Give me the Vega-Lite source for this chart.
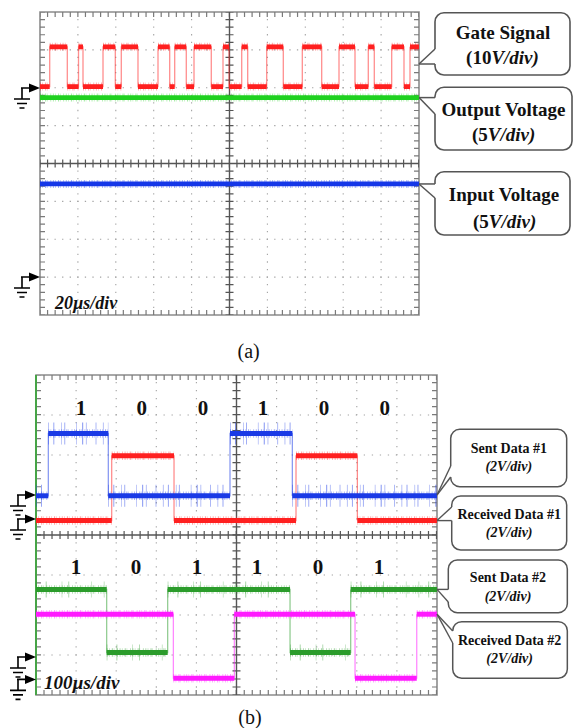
{
  "$schema": "https://vega.github.io/schema/vega-lite/v6.json",
  "padding": 0,
  "spacing": 0,
  "bounds": "flush",
  "background": "white",
  "config": {"view": {"stroke": null}, "text": {"font": "Liberation Serif", "color": "#111111"}},
  "datasets": {
    "gridA": [
      {"t": 20, "t2": 20, "v": 0, "v2": 8}, {"t": 40, "t2": 40, "v": 0, "v2": 8}, {"t": 60, "t2": 60, "v": 0, "v2": 8}, {"t": 80, "t2": 80, "v": 0, "v2": 8},
      {"t": 120, "t2": 120, "v": 0, "v2": 8}, {"t": 140, "t2": 140, "v": 0, "v2": 8}, {"t": 160, "t2": 160, "v": 0, "v2": 8}, {"t": 180, "t2": 180, "v": 0, "v2": 8},
      {"t": 0, "t2": 200, "v": 1, "v2": 1}, {"t": 0, "t2": 200, "v": 2, "v2": 2}, {"t": 0, "t2": 200, "v": 3, "v2": 3},
      {"t": 0, "t2": 200, "v": 5, "v2": 5}, {"t": 0, "t2": 200, "v": 6, "v2": 6}, {"t": 0, "t2": 200, "v": 7, "v2": 7}
    ],
    "gridB": [
      {"t": 100, "t2": 100, "v": 0, "v2": 8}, {"t": 200, "t2": 200, "v": 0, "v2": 8}, {"t": 300, "t2": 300, "v": 0, "v2": 8}, {"t": 400, "t2": 400, "v": 0, "v2": 8},
      {"t": 600, "t2": 600, "v": 0, "v2": 8}, {"t": 700, "t2": 700, "v": 0, "v2": 8}, {"t": 800, "t2": 800, "v": 0, "v2": 8}, {"t": 900, "t2": 900, "v": 0, "v2": 8},
      {"t": 0, "t2": 1000, "v": 1, "v2": 1}, {"t": 0, "t2": 1000, "v": 2, "v2": 2}, {"t": 0, "t2": 1000, "v": 3, "v2": 3},
      {"t": 0, "t2": 1000, "v": 5, "v2": 5}, {"t": 0, "t2": 1000, "v": 6, "v2": 6}, {"t": 0, "t2": 1000, "v": 7, "v2": 7}
    ],
    "segA": [
      {"sig": "Gate", "t": 0, "t2": 5.12, "v": 6.03},
      {"sig": "Gate", "t": 5.12, "t2": 14.41, "v": 7.08},
      {"sig": "Gate", "t": 14.41, "t2": 20.32, "v": 6.03},
      {"sig": "Gate", "t": 20.32, "t2": 22.69, "v": 7.08},
      {"sig": "Gate", "t": 22.69, "t2": 33.25, "v": 6.03},
      {"sig": "Gate", "t": 33.25, "t2": 39.74, "v": 7.08},
      {"sig": "Gate", "t": 39.74, "t2": 42.9, "v": 6.03},
      {"sig": "Gate", "t": 42.9, "t2": 51.71, "v": 7.08},
      {"sig": "Gate", "t": 51.71, "t2": 62.27, "v": 6.03},
      {"sig": "Gate", "t": 62.27, "t2": 68.44, "v": 7.08},
      {"sig": "Gate", "t": 68.44, "t2": 71.08, "v": 6.03},
      {"sig": "Gate", "t": 71.08, "t2": 77.2, "v": 7.08},
      {"sig": "Gate", "t": 77.2, "t2": 81.27, "v": 6.03},
      {"sig": "Gate", "t": 81.27, "t2": 90.39, "v": 7.08},
      {"sig": "Gate", "t": 90.39, "t2": 96.57, "v": 6.03},
      {"sig": "Gate", "t": 96.57, "t2": 99.74, "v": 7.08},
      {"sig": "Gate", "t": 99.74, "t2": 106.44, "v": 6.03},
      {"sig": "Gate", "t": 106.44, "t2": 109.6, "v": 7.08},
      {"sig": "Gate", "t": 109.6, "t2": 119.63, "v": 6.03},
      {"sig": "Gate", "t": 119.63, "t2": 128.39, "v": 7.08},
      {"sig": "Gate", "t": 128.39, "t2": 138.42, "v": 6.03},
      {"sig": "Gate", "t": 138.42, "t2": 148.65, "v": 7.08},
      {"sig": "Gate", "t": 148.65, "t2": 157.78, "v": 6.03},
      {"sig": "Gate", "t": 157.78, "t2": 166.23, "v": 7.08},
      {"sig": "Gate", "t": 166.23, "t2": 173.24, "v": 6.03},
      {"sig": "Gate", "t": 173.24, "t2": 176.41, "v": 7.08},
      {"sig": "Gate", "t": 176.41, "t2": 185.59, "v": 6.03},
      {"sig": "Gate", "t": 185.59, "t2": 192.08, "v": 7.08},
      {"sig": "Gate", "t": 192.08, "t2": 195.25, "v": 6.03},
      {"sig": "Gate", "t": 195.25, "t2": 200, "v": 7.08},
      {"sig": "Out", "t": 0, "t2": 200, "v": 5.74},
      {"sig": "In", "t": 0, "t2": 200, "v": 3.46}
    ],
    "segB": [
      {"sig": "R1", "t": 0, "t2": 188.8, "v": 4.36},
      {"sig": "R1", "t": 188.8, "t2": 344.2, "v": 5.98},
      {"sig": "R1", "t": 344.2, "t2": 648.4, "v": 4.36},
      {"sig": "R1", "t": 648.4, "t2": 801.4, "v": 5.98},
      {"sig": "R1", "t": 801.4, "t2": 1000, "v": 4.36},
      {"sig": "S1", "t": 0, "t2": 30.7, "v": 4.98},
      {"sig": "S1", "t": 30.7, "t2": 180.3, "v": 6.54},
      {"sig": "S1", "t": 180.3, "t2": 483.8, "v": 4.98},
      {"sig": "S1", "t": 483.8, "t2": 639.2, "v": 6.54},
      {"sig": "S1", "t": 639.2, "t2": 1000, "v": 4.98},
      {"sig": "R2", "t": 0, "t2": 342.5, "v": 2.02},
      {"sig": "R2", "t": 342.5, "t2": 494.6, "v": 0.42},
      {"sig": "R2", "t": 494.6, "t2": 795.6, "v": 2.02},
      {"sig": "R2", "t": 795.6, "t2": 949.5, "v": 0.42},
      {"sig": "R2", "t": 949.5, "t2": 1000, "v": 2.02},
      {"sig": "S2", "t": 0, "t2": 176.3, "v": 2.64},
      {"sig": "S2", "t": 176.3, "t2": 328.4, "v": 1.06},
      {"sig": "S2", "t": 328.4, "t2": 633.5, "v": 2.64},
      {"sig": "S2", "t": 633.5, "t2": 784.8, "v": 1.06},
      {"sig": "S2", "t": 784.8, "t2": 1000, "v": 2.64}
    ]
  },
  "vconcat": [
    {
      "width": 575,
      "height": 360,
      "encoding": {
        "x": {"field": "t", "type": "quantitative", "scale": {"domain": [-21.108, 282.32], "nice": false, "zero": false}, "axis": null},
        "y": {"field": "v", "type": "quantitative", "scale": {"domain": [-1.1881, 8.3168], "nice": false, "zero": false}, "axis": null}
      },
      "layer": [
        {"data": {"name": "gridA"}, "mark": {"type": "rule", "stroke": "#a3a3a3", "strokeWidth": 1.1, "strokeDash": [1.3, 6.275], "strokeDashOffset": 0.65}, "encoding": {"x2": {"field": "t2"}, "y2": {"field": "v2"}}},
        {"data": {"values": [{"t": 0, "t2": 200, "v": 0, "v2": 8}]}, "mark": {"type": "rect", "fill": "transparent", "stroke": "#8c8c8c", "strokeWidth": 1.6}, "encoding": {"x2": {"field": "t2"}, "y2": {"field": "v2"}}},
        {"data": {"values": [{"t": 0, "t2": 200, "v": 7.934, "v2": 7.934}, {"t": 0, "t2": 200, "v": 0.066, "v2": 0.066}, {"t": 1.32, "t2": 1.32, "v": 0, "v2": 8}, {"t": 198.68, "t2": 198.68, "v": 0, "v2": 8}]}, "mark": {"type": "rule", "stroke": "#7a7a7a", "strokeWidth": 5, "strokeDash": [1.2, 6.375], "strokeDashOffset": 0.6, "strokeCap": "butt"}, "encoding": {"x2": {"field": "t2"}, "y2": {"field": "v2"}}},
        {"data": {"values": [{"t": 100, "t2": 100, "v": 0, "v2": 8}, {"t": 0, "t2": 200, "v": 4, "v2": 4}]}, "mark": {"type": "rule", "stroke": "#555555", "strokeWidth": 1.4}, "encoding": {"x2": {"field": "t2"}, "y2": {"field": "v2"}}},
        {"data": {"values": [{"t": 100, "t2": 100, "v": 0, "v2": 8}, {"t": 0, "t2": 200, "v": 4, "v2": 4}]}, "mark": {"type": "rule", "stroke": "#555555", "strokeWidth": 8, "strokeDash": [1.2, 6.375], "strokeDashOffset": 0.6, "strokeCap": "butt"}, "encoding": {"x2": {"field": "t2"}, "y2": {"field": "v2"}}},
        {"data": {"name": "segA"}, "mark": {"type": "line", "interpolate": "step-after", "strokeWidth": 1.3, "opacity": 0.5}, "encoding": {"color": {"field": "sig", "type": "nominal", "scale": {"domain": ["Gate", "Out", "In", "S1", "R1", "S2", "R2"], "range": ["#ff1f1f", "#1fd11f", "#1537e8", "#1a3ae6", "#ff2020", "#2b9c2b", "#ff1aff"]}, "legend": null}}},
        {"data": {"name": "segA"}, "mark": {"type": "rule", "strokeWidth": 8, "opacity": 0.4, "strokeDash": [0.9, 1.4, 0.6, 2.2, 1.1, 0.9, 0.5, 2.8, 0.8, 1.7], "strokeCap": "butt"}, "encoding": {"x2": {"field": "t2"}, "color": {"field": "sig", "type": "nominal", "scale": {"domain": ["Gate", "Out", "In", "S1", "R1", "S2", "R2"], "range": ["#ff1f1f", "#1fd11f", "#1537e8", "#1a3ae6", "#ff2020", "#2b9c2b", "#ff1aff"]}, "legend": null}}},
        {"data": {"name": "segA"}, "mark": {"type": "rule", "strokeWidth": 4.8, "strokeCap": "butt"}, "encoding": {"x2": {"field": "t2"}, "color": {"field": "sig", "type": "nominal", "scale": {"domain": ["Gate", "Out", "In", "S1", "R1", "S2", "R2"], "range": ["#ff1f1f", "#1fd11f", "#1537e8", "#1a3ae6", "#ff2020", "#2b9c2b", "#ff1aff"]}, "legend": null}}},
        {"data": {"values": [{"t": 0, "v": 5.993}, {"t": 0, "v": 1.003}]}, "mark": {"type": "point", "shape": "M0,0L-11,-4.5L-11,4.5Z", "size": 4, "filled": true, "color": "#000000", "opacity": 1}, "encoding": {}},
        {"data": {"values": [{"t": 0, "v": 5.993}, {"t": 0, "v": 1.003}]}, "mark": {"type": "point", "shape": "M-19,0L-10,0M-18,0L-18,11M-26,11L-10,11M-23,15.5L-13,15.5M-20.5,20L-15.5,20", "size": 4, "filled": false, "stroke": "#000000", "strokeWidth": 1.6, "opacity": 1}, "encoding": {}},
        {"data": {"values": [{"t": 208.44, "t2": 279.68, "v": 7.98, "v2": 6.337}, {"t": 208.44, "t2": 280.74, "v": 6.012, "v2": 4.356}, {"t": 208.44, "t2": 279.68, "v": 3.784, "v2": 2.112}]}, "mark": {"type": "rect", "fill": "white", "stroke": "#555555", "strokeWidth": 1.6, "cornerRadius": 9}, "encoding": {"x2": {"field": "t2"}, "y2": {"field": "v2"}}},
        {"data": {"values": [{"t": 208.44, "v": 7.023, "v2": 6.627}, {"t": 208.44, "v": 5.74, "v2": 5.307}, {"t": 208.44, "v": 3.46, "v2": 3.089}]}, "mark": {"type": "rule", "stroke": "white", "strokeWidth": 3}, "encoding": {"y2": {"field": "v2"}}},
        {"data": {"values": [{"t": 200, "v": 6.627, "t2": 208.44, "v2": 7.023}, {"t": 200, "v": 6.627, "t2": 208.44, "v2": 6.627}, {"t": 200, "v": 5.74, "t2": 208.44, "v2": 5.74}, {"t": 200, "v": 5.74, "t2": 208.44, "v2": 5.307}, {"t": 200, "v": 3.46, "t2": 208.44, "v2": 3.46}, {"t": 200, "v": 3.46, "t2": 208.44, "v2": 3.089}]}, "mark": {"type": "rule", "stroke": "#555555", "strokeWidth": 1.5}, "encoding": {"x2": {"field": "t2"}, "y2": {"field": "v2"}}},
        {"data": {"values": [{"t": 244.3, "v": 7.446, "txt": "Gate Signal"}, {"t": 244.6, "v": 5.413, "txt": "Output Voltage"}, {"t": 244.85, "v": 3.168, "txt": "Input Voltage"}]}, "mark": {"type": "text", "font": "Liberation Serif", "fontSize": 19, "fontWeight": "bold", "align": "center", "baseline": "middle"}, "encoding": {"text": {"field": "txt"}}},
        {"data": {"values": [{"t": 238.2, "v": 6.785, "txt": "(10"}, {"t": 236.3, "v": 4.752, "txt": "(5"}, {"t": 236.8, "v": 2.463, "txt": "(5"}]}, "mark": {"type": "text", "font": "Liberation Serif", "fontSize": 19, "fontWeight": "bold", "align": "right", "baseline": "middle"}, "encoding": {"text": {"field": "txt"}}},
        {"data": {"values": [{"t": 238.2, "v": 6.785, "txt": "V/div)"}, {"t": 236.3, "v": 4.752, "txt": "V/div)"}, {"t": 236.8, "v": 2.463, "txt": "V/div)"}]}, "mark": {"type": "text", "font": "Liberation Serif", "fontSize": 19, "fontWeight": "bold", "fontStyle": "italic", "align": "left", "baseline": "middle"}, "encoding": {"text": {"field": "txt"}}},
        {"data": {"values": [{"t": 7.9, "v": 0.29, "txt": "20µs/div"}]}, "mark": {"type": "text", "font": "Liberation Serif", "fontSize": 18, "fontWeight": "bold", "fontStyle": "italic", "align": "left", "baseline": "middle"}, "encoding": {"text": {"field": "txt"}}},
        {"data": {"values": [{"t": 110.1, "v": -0.969, "txt": "(a)"}]}, "mark": {"type": "text", "font": "Liberation Serif", "fontSize": 20, "align": "center", "baseline": "middle"}, "encoding": {"text": {"field": "txt"}}}
      ]
    },
    {
      "width": 575,
      "height": 368,
      "encoding": {
        "x": {"field": "t", "type": "quantitative", "scale": {"domain": [-89.776, 1344.14], "nice": false, "zero": false}, "axis": null},
        "y": {"field": "v", "type": "quantitative", "scale": {"domain": [-0.825, 8.375], "nice": false, "zero": false}, "axis": null}
      },
      "layer": [
        {"data": {"name": "gridB"}, "mark": {"type": "rule", "stroke": "#a3a3a3", "strokeWidth": 1.1, "strokeDash": [1.3, 6.71], "strokeDashOffset": 0.65}, "encoding": {"x2": {"field": "t2"}, "y2": {"field": "v2"}}},
        {"data": {"values": [{"t": 0, "t2": 1000, "v": 0, "v2": 8}]}, "mark": {"type": "rect", "fill": "transparent", "stroke": "#8c8c8c", "strokeWidth": 1.6}, "encoding": {"x2": {"field": "t2"}, "y2": {"field": "v2"}}},
        {"data": {"values": [{"t": 0, "t2": 1000, "v": 7.9375, "v2": 7.9375}, {"t": 0, "t2": 1000, "v": 0.0625, "v2": 0.0625}, {"t": 6.23, "t2": 6.23, "v": 0, "v2": 8}, {"t": 993.77, "t2": 993.77, "v": 0, "v2": 8}]}, "mark": {"type": "rule", "stroke": "#7a7a7a", "strokeWidth": 5, "strokeDash": [1.2, 6.81], "strokeDashOffset": 0.6, "strokeCap": "butt"}, "encoding": {"x2": {"field": "t2"}, "y2": {"field": "v2"}}},
        {"data": {"values": [{"t": 500, "t2": 500, "v": 0, "v2": 8}, {"t": 0, "t2": 1000, "v": 4, "v2": 4}]}, "mark": {"type": "rule", "stroke": "#555555", "strokeWidth": 1.4}, "encoding": {"x2": {"field": "t2"}, "y2": {"field": "v2"}}},
        {"data": {"values": [{"t": 500, "t2": 500, "v": 0, "v2": 8}, {"t": 0, "t2": 1000, "v": 4, "v2": 4}]}, "mark": {"type": "rule", "stroke": "#555555", "strokeWidth": 8, "strokeDash": [1.2, 6.81], "strokeDashOffset": 0.6, "strokeCap": "butt"}, "encoding": {"x2": {"field": "t2"}, "y2": {"field": "v2"}}},
        {"data": {"values": [{"t": 0, "t2": 0, "v": 0, "v2": 8}]}, "mark": {"type": "rule", "stroke": "#47a447", "strokeWidth": 2}, "encoding": {"x2": {"field": "t2"}, "y2": {"field": "v2"}}},
        {"data": {"name": "segB"}, "mark": {"type": "line", "interpolate": "step-after", "strokeWidth": 1.2, "opacity": 0.55}, "encoding": {"color": {"field": "sig", "type": "nominal", "scale": {"domain": ["Gate", "Out", "In", "S1", "R1", "S2", "R2"], "range": ["#ff1f1f", "#1fd11f", "#1537e8", "#1a3ae6", "#ff2020", "#2b9c2b", "#ff1aff"]}, "legend": null}}},
        {"data": {"name": "segB"}, "transform": [{"filter": "datum.sig == 'S1'"}], "mark": {"type": "rule", "strokeWidth": 22, "opacity": 0.45, "strokeDash": [0.7, 4.3, 1, 7, 0.6, 2.4, 0.9, 11, 0.6, 5.2, 1.2, 2.7, 0.7, 9, 0.8, 6.5], "strokeCap": "butt", "color": "#1a3ae6"}, "encoding": {"x2": {"field": "t2"}}},
        {"data": {"name": "segB"}, "transform": [{"filter": "datum.sig == 'S2'"}], "mark": {"type": "rule", "strokeWidth": 16, "opacity": 0.4, "strokeDash": [0.7, 9, 1, 15, 0.6, 6, 0.9, 22, 0.6, 12], "strokeCap": "butt", "color": "#2b9c2b"}, "encoding": {"x2": {"field": "t2"}}},
        {"data": {"name": "segB"}, "mark": {"type": "rule", "strokeWidth": 8.5, "opacity": 0.4, "strokeDash": [0.9, 1.4, 0.6, 2.2, 1.1, 0.9, 0.5, 2.8, 0.8, 1.7], "strokeCap": "butt"}, "encoding": {"x2": {"field": "t2"}, "color": {"field": "sig", "type": "nominal", "scale": {"domain": ["Gate", "Out", "In", "S1", "R1", "S2", "R2"], "range": ["#ff1f1f", "#1fd11f", "#1537e8", "#1a3ae6", "#ff2020", "#2b9c2b", "#ff1aff"]}, "legend": null}}},
        {"data": {"name": "segB"}, "mark": {"type": "rule", "strokeWidth": 5, "strokeCap": "butt"}, "encoding": {"x2": {"field": "t2"}, "color": {"field": "sig", "type": "nominal", "scale": {"domain": ["Gate", "Out", "In", "S1", "R1", "S2", "R2"], "range": ["#ff1f1f", "#1fd11f", "#1537e8", "#1a3ae6", "#ff2020", "#2b9c2b", "#ff1aff"]}, "legend": null}}},
        {"data": {"values": [{"t": 0, "v": 5.0}, {"t": 0, "v": 4.4}, {"t": 0, "v": 0.95}, {"t": 0, "v": 0.39}]}, "mark": {"type": "point", "shape": "M0,0L-11,-4.5L-11,4.5Z", "size": 4, "filled": true, "color": "#000000", "opacity": 1}, "encoding": {}},
        {"data": {"values": [{"t": 0, "v": 5.0}, {"t": 0, "v": 4.4}, {"t": 0, "v": 0.95}, {"t": 0, "v": 0.39}]}, "mark": {"type": "point", "shape": "M-19,0L-10,0M-18,0L-18,11M-26,11L-10,11M-23,15.5L-13,15.5M-20.5,20L-15.5,20", "size": 4, "filled": false, "stroke": "#000000", "strokeWidth": 1.6, "opacity": 1}, "encoding": {}},
        {"data": {"values": [{"t": 1034.2, "t2": 1323.4, "v": 6.643, "v2": 5.208}, {"t": 1036.7, "t2": 1323.4, "v": 4.975, "v2": 3.625}, {"t": 1028.2, "t2": 1325, "v": 3.375, "v2": 2.058}, {"t": 1039.2, "t2": 1325, "v": 1.833, "v2": 0.418}]}, "mark": {"type": "rect", "fill": "white", "stroke": "#555555", "strokeWidth": 1.5, "cornerRadius": 9}, "encoding": {"x2": {"field": "t2"}, "y2": {"field": "v2"}}},
        {"data": {"values": [{"t": 1034.2, "v": 5.725, "v2": 5.45}, {"t": 1036.7, "v": 4.7, "v2": 4.36}, {"t": 1028.2, "v": 2.64, "v2": 2.325}, {"t": 1039.2, "v": 1.6, "v2": 1.3}]}, "mark": {"type": "rule", "stroke": "white", "strokeWidth": 3}, "encoding": {"y2": {"field": "v2"}}},
        {"data": {"values": [
          {"t": 1000, "v": 5.0, "t2": 1034.2, "v2": 5.725}, {"t": 1000, "v": 5.0, "t2": 1034.2, "v2": 5.45},
          {"t": 1000, "v": 4.36, "t2": 1036.7, "v2": 4.7}, {"t": 1000, "v": 4.36, "t2": 1036.7, "v2": 4.36},
          {"t": 1000, "v": 2.64, "t2": 1028.2, "v2": 2.64}, {"t": 1000, "v": 2.64, "t2": 1028.2, "v2": 2.325},
          {"t": 1000, "v": 2.02, "t2": 1039.2, "v2": 1.6}, {"t": 1000, "v": 2.02, "t2": 1039.2, "v2": 1.3}
        ]}, "mark": {"type": "rule", "stroke": "#555555", "strokeWidth": 1.4}, "encoding": {"x2": {"field": "t2"}, "y2": {"field": "v2"}}},
        {"data": {"values": [{"t": 1179, "v": 6.15, "txt": "Sent Data #1"}, {"t": 1180, "v": 4.5, "txt": "Received Data #1"}, {"t": 1177, "v": 2.918, "txt": "Sent Data #2"}, {"t": 1181, "v": 1.358, "txt": "Received Data #2"}]}, "mark": {"type": "text", "font": "Liberation Serif", "fontSize": 14, "fontWeight": "bold", "align": "center", "baseline": "middle"}, "encoding": {"text": {"field": "txt"}}},
        {"data": {"values": [{"t": 1179, "v": 5.693, "txt": "(2V/div)"}, {"t": 1180, "v": 4.043, "txt": "(2V/div)"}, {"t": 1177, "v": 2.458, "txt": "(2V/div)"}, {"t": 1181, "v": 0.893, "txt": "(2V/div)"}]}, "mark": {"type": "text", "font": "Liberation Serif", "fontSize": 14, "fontWeight": "bold", "fontStyle": "italic", "align": "center", "baseline": "middle"}, "encoding": {"text": {"field": "txt"}}},
        {"data": {"values": [
          {"t": 112, "v": 7.16, "txt": "1"}, {"t": 264, "v": 7.16, "txt": "0"}, {"t": 416.5, "v": 7.16, "txt": "0"}, {"t": 566, "v": 7.16, "txt": "1"}, {"t": 718, "v": 7.16, "txt": "0"}, {"t": 870, "v": 7.16, "txt": "0"},
          {"t": 99.8, "v": 3.17, "txt": "1"}, {"t": 249.4, "v": 3.17, "txt": "0"}, {"t": 401.5, "v": 3.17, "txt": "1"}, {"t": 551.2, "v": 3.17, "txt": "1"}, {"t": 703.3, "v": 3.17, "txt": "0"}, {"t": 855.4, "v": 3.17, "txt": "1"}
        ]}, "mark": {"type": "text", "font": "Liberation Serif", "fontSize": 21, "fontWeight": "bold", "align": "center", "baseline": "middle"}, "encoding": {"text": {"field": "txt"}}},
        {"data": {"values": [{"t": 20, "v": 0.3, "txt": "100µs/div"}]}, "mark": {"type": "text", "font": "Liberation Serif", "fontSize": 19, "fontWeight": "bold", "fontStyle": "italic", "align": "left", "baseline": "middle"}, "encoding": {"text": {"field": "txt"}}},
        {"data": {"values": [{"t": 533.7, "v": -0.575, "txt": "(b)"}]}, "mark": {"type": "text", "font": "Liberation Serif", "fontSize": 20, "align": "center", "baseline": "middle"}, "encoding": {"text": {"field": "txt"}}}
      ]
    }
  ]
}
